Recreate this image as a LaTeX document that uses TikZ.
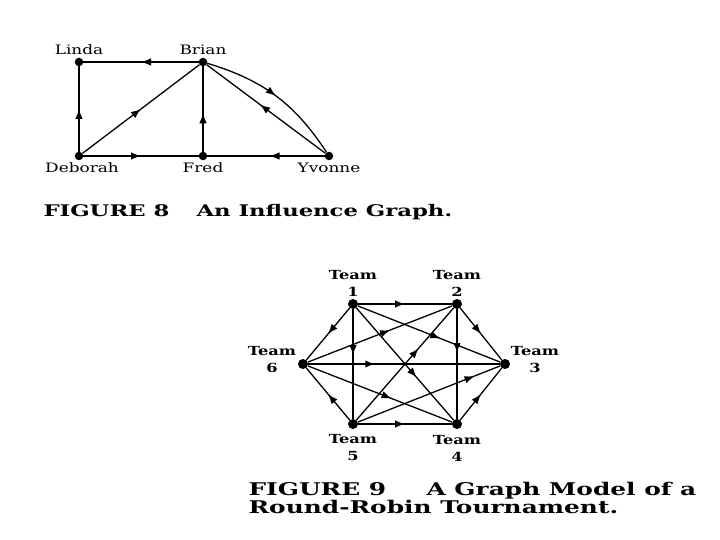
\documentclass[tikz,border=0pt]{standalone}
\usepackage{fontspec}
\usetikzlibrary{arrows.meta,decorations.markings}
\newfontfamily\labelfont[FakeStretch=1.3]{DejaVu Serif}
\newfontfamily\captionfont[FakeStretch=1.42]{DejaVu Serif}
\definecolor{Ink}{HTML}{000000}
\definecolor{Paper}{HTML}{FFFFFF}

\begin{document}
\begin{tikzpicture}[
    x=1pt, y=-1pt,
    dot/.style={circle, fill=Ink, inner sep=0pt, minimum size=8.5pt},
    teamdot/.style={circle, fill=Ink, inner sep=0pt, minimum size=10pt},
    namelabel/.style={anchor=base, font=\labelfont\fontsize{13}{15}\selectfont, text=Ink},
    teamlabel/.style={align=center, font=\labelfont\bfseries\fontsize{12.5}{17}\selectfont, text=Ink},
    figcaption/.style={anchor=base west, font=\captionfont\bfseries\fontsize{16}{18}\selectfont, text=Ink},
    bigcaption/.style={anchor=base west, font=\captionfont\bfseries\fontsize{17.5}{18}\selectfont, text=Ink},
    edge/.style={draw=Ink, line width=1.3pt},
    heavyedge/.style={draw=Ink, line width=2.2pt},
    midarrow/.style={postaction={decorate}, decoration={markings, mark=at position #1 with {\arrow{Latex[length=10pt,width=7.5pt]}}}},
    midarrow/.default=0.5
]

\fill[Paper] (0,0) rectangle (720,540);
\useasboundingbox (0,0) rectangle (720,540);

% Figure 8: influence graph
\node[dot] (linda) at (79,62) {};
\node[dot] (brian) at (203,62) {};
\node[dot] (deborah) at (79,156) {};
\node[dot] (fred) at (203,156) {};
\node[dot] (yvonne) at (329,156) {};

\node[namelabel] (lindalabel) at (79,55) {Linda};
\node[namelabel] (brianlabel) at (203,55) {Brian};
\node[namelabel] (deborahlabel) at (82,173) {Deborah};
\node[namelabel] (fredlabel) at (203,173) {Fred};
\node[namelabel] (yvonnelabel) at (329,173) {Yvonne};

\draw[edge, midarrow] (brian) -- (linda);
\draw[edge, midarrow] (deborah) -- (linda);
\draw[edge, midarrow] (deborah) -- (brian);
\draw[edge, midarrow=0.45] (fred) -- (brian);
\draw[edge, midarrow] (deborah) -- (fred);
\draw[edge, midarrow=0.47] (yvonne) -- (fred);
\draw[edge, midarrow=0.55] (yvonne) -- (brian);
\draw[edge, midarrow] (brian) to[bend left=20] (yvonne);

\node[figcaption] (fig8num) at (40,216.5) {FIGURE 8};
\node[figcaption] (fig8title) at (193,216.5) {An Influence Graph.};

% Figure 9: round-robin tournament
\node[teamdot] (t1) at (353,304) {};
\node[teamdot] (t2) at (457,304) {};
\node[teamdot] (t3) at (505,364) {};
\node[teamdot] (t4) at (457,424) {};
\node[teamdot] (t5) at (353,424) {};
\node[teamdot] (t6) at (303,364) {};

\node[teamlabel] (t1label) at (353,283) {Team\\1};
\node[teamlabel] (t2label) at (457,283) {Team\\2};
\node[teamlabel] (t3label) at (535,360) {Team\\3};
\node[teamlabel] (t4label) at (457,448) {Team\\4};
\node[teamlabel] (t5label) at (353,448) {Team\\5};
\node[teamlabel] (t6label) at (272,360) {Team\\6};

\draw[edge, midarrow] (t1) -- (t2);
\draw[edge, midarrow] (t1) -- (t6);
\draw[heavyedge, midarrow=0.42] (t1) -- (t5);
\draw[edge, midarrow=0.62] (t1) -- (t4);
\draw[edge, midarrow=0.58] (t1) -- (t3);
\draw[edge, midarrow] (t2) -- (t3);
\draw[heavyedge, midarrow=0.4] (t2) -- (t4);
\draw[edge, midarrow=0.57] (t6) -- (t2);
\draw[edge, midarrow=0.64] (t5) -- (t2);
\draw[heavyedge, midarrow=0.35] (t6) -- (t3);
\draw[edge, midarrow=0.58] (t6) -- (t4);
\draw[edge, midarrow] (t5) -- (t6);
\draw[edge, midarrow=0.82] (t5) -- (t3);
\draw[edge, midarrow] (t5) -- (t4);
\draw[edge, midarrow] (t4) -- (t3);

\node[bigcaption] (fig9num) at (245,495) {FIGURE 9};
\node[bigcaption] (fig9title) at (423,495) {A Graph Model of a};
\node[bigcaption] (fig9title2) at (245,513) {Round-Robin Tournament.};

\end{tikzpicture}
\end{document}
